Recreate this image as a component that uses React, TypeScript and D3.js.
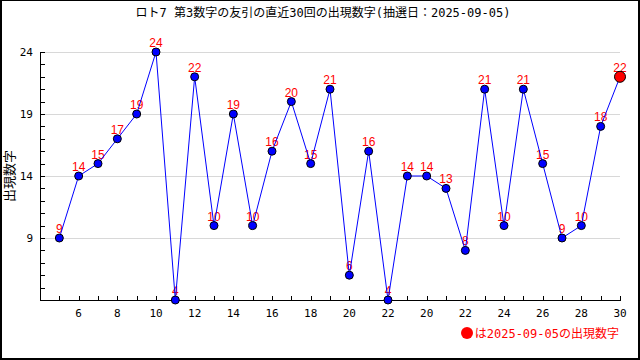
import * as d3 from 'd3';

// 直近30回の出現数字 (古い順)
const values = [9, 14, 15, 17, 19, 24, 4, 22, 10, 19, 10, 16, 20, 15, 21, 6, 16, 4, 14, 14, 13, 8, 21, 10, 21, 15, 9, 10, 18, 22];
// x軸ラベル (偶数番目の目盛りに付く)
const xTickLabels = ['6', '8', '10', '12', '14', '16', '18', '20', '22', '20', '22', '24', '26', '28', '30'];
const yTickLabels = [9, 14, 19, 24];

const title = 'ロト7 第3数字の友引の直近30回の出現数字(抽選日：2025-09-05)';
const legendText = 'は2025-09-05の出現数字';

const W = 640;
const H = 360;
const FONT = '"DejaVu Sans Mono", "Noto Sans CJK JP", monospace';
const LABEL_FONT = '"Liberation Sans", Arial, sans-serif';

export default function App() {
  const x = d3.scaleLinear().domain([0, values.length]).range([40, 620]);
  const y = d3.scaleLinear().domain([4, 24]).range([300, 52]);

  const pts = values.map((v, i) => ({ i: i + 1, v }));
  const line = d3.line<{ i: number; v: number }>().x(d => x(d.i)).y(d => y(d.v));
  const yMinor = d3.range(4, 25);
  const xMinor = d3.range(1, values.length + 1);
  const last = pts[pts.length - 1];

  return (
    <svg width={W} height={H} style={{ position: 'fixed', left: 0, top: 0, background: '#fff' }}>
      {/* frame */}
      <line x1={0} x2={W} y1={0.5} y2={0.5} stroke="#000" />
      <line x1={1} x2={1} y1={0} y2={H} stroke="#000" strokeWidth={2} />
      <line x1={W - 1} x2={W - 1} y1={0} y2={H} stroke="#000" strokeWidth={2} />
      <line x1={0} x2={W} y1={H - 1} y2={H - 1} stroke="#000" strokeWidth={2} />

      <text x={323} y={17} textAnchor="middle" fontFamily={FONT} fontSize={12} fill="#000">{title}</text>

      {/* grid */}
      {yTickLabels.map(t => (
        <line key={t} x1={40} x2={620} y1={Math.round(y(t)) + 0.5} y2={Math.round(y(t)) + 0.5} stroke="#d8d8d8" />
      ))}

      {/* y axis */}
      <line x1={40.5} x2={40.5} y1={Math.round(y(24))} y2={300.5} stroke="#000" />
      {yMinor.map(t => (
        <line key={t} x1={40} x2={45} y1={Math.round(y(t)) + 0.5} y2={Math.round(y(t)) + 0.5} stroke="#000" />
      ))}
      {yTickLabels.map(t => (
        <text key={t} x={33} y={y(t) + 4} textAnchor="end" fontFamily={FONT} fontSize={11} fill="#000">{t}</text>
      ))}
      <text transform="translate(14,176) rotate(-90)" textAnchor="middle" fontFamily={FONT} fontSize={13} fill="#000">出現数字</text>

      {/* x axis */}
      <line x1={40} x2={621} y1={300.5} y2={300.5} stroke="#000" />
      {xMinor.map(i => (
        <line key={i} x1={Math.round(x(i)) + 0.5} x2={Math.round(x(i)) + 0.5} y1={296} y2={300} stroke="#000" />
      ))}
      {xTickLabels.map((l, k) => (
        <text key={k} x={x((k + 1) * 2)} y={317} textAnchor="middle" fontFamily={FONT} fontSize={11} fill="#000">{l}</text>
      ))}

      {/* value labels */}
      {pts.map(d => (
        <text key={d.i} x={x(d.i)} y={y(d.v) - 5} textAnchor="middle" fontFamily={LABEL_FONT} fontSize={12} fill="#ff0000">{d.v}</text>
      ))}

      <path d={line(pts) ?? ''} fill="none" stroke="#0000ff" strokeWidth={1} />

      {pts.slice(0, -1).map(d => (
        <circle key={d.i} cx={x(d.i)} cy={y(d.v)} r={4} fill="#0000ff" stroke="#000" strokeWidth={1} />
      ))}
      <circle cx={x(last.i)} cy={y(last.v)} r={5.5} fill="#ff0000" stroke="#000" strokeWidth={1} />

      {/* legend */}
      <circle cx={467} cy={333} r={6} fill="#ff0000" />
      <text x={619} y={338} textAnchor="end" fontFamily={FONT} fontSize={12} fill="#ff0000">{legendText}</text>
    </svg>
  );
}
